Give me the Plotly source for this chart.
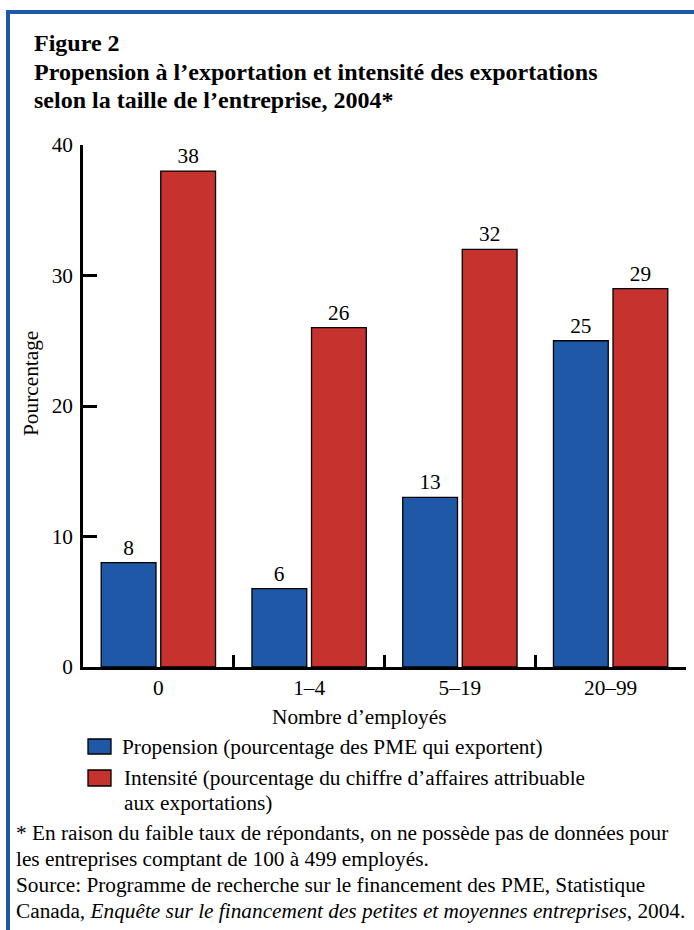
import plotly.graph_objects as go

# Data
categories = ["0", "1–4", "5–19", "20–99"]
propension = [8, 6, 13, 25]
intensite = [38, 26, 32, 29]
y_ticks = [0, 10, 20, 30, 40]

W, H = 694, 930
L, R, T, B = 83, 8, 145, 263
PW, PH = W - L - R, H - T - B

BLUE = "#1f58a7"
RED = "#c6322e"
FONT = "Liberation Serif, Times New Roman, serif"
FS = 21.3


def px(x):
    return (x - L) / PW


def py(y):
    return (H - B - y) / PH


fig = go.Figure()
fig.add_trace(go.Bar(
    x=categories, y=propension, name="Propension",
    marker=dict(color=BLUE, line=dict(color="black", width=1.3)),
    text=[str(v) for v in propension], textposition="outside",
    textfont=dict(family=FONT, size=FS, color="black"), cliponaxis=False,
))
fig.add_trace(go.Bar(
    x=categories, y=intensite, name="Intensité",
    marker=dict(color=RED, line=dict(color="black", width=1.3)),
    text=[str(v) for v in intensite], textposition="outside",
    textfont=dict(family=FONT, size=FS, color="black"), cliponaxis=False,
))

annotations = []


def note(x, y, text, size=FS, anchor="left", yanchor="middle"):
    annotations.append(dict(
        x=px(x), y=py(y), xref="paper", yref="paper", text=text,
        showarrow=False, xanchor=anchor, yanchor=yanchor, align="left",
        font=dict(family=FONT, size=size, color="black"),
    ))


# Title block
for i, line in enumerate([
    "<b>Figure 2</b>",
    "<b>Propension à l’exportation et intensité des exportations</b>",
    "<b>selon la taille de l’entreprise, 2004*</b>",
]):
    note(32, 43 + i * 28.5, line, size=24)

# Axis titles
annotations.append(dict(
    x=px(31), y=py(384), xref="paper", yref="paper", text="Pourcentage",
    showarrow=False, textangle=-90, xanchor="center", yanchor="middle",
    font=dict(family=FONT, size=FS, color="black"),
))
note(359, 717, "Nombre d’employés", anchor="center")

# Legend
shapes = [
    dict(type="rect", xref="paper", yref="paper",
         x0=px(88), x1=px(111), y0=py(739), y1=py(754),
         fillcolor=BLUE, line=dict(color="black", width=1.3)),
    dict(type="rect", xref="paper", yref="paper",
         x0=px(88), x1=px(111), y0=py(770), y1=py(786),
         fillcolor=RED, line=dict(color="black", width=1.3)),
]
note(120, 747, "Propension (pourcentage des PME qui exportent)")
note(122, 778, "Intensité (pourcentage du chiffre d’affaires attribuable")
note(122, 803, "aux exportations)")

# Footnotes
note(14, 833, "* En raison du faible taux de répondants, on ne possède pas de données pour")
note(14, 859, "les entreprises comptant de 100 à 499 employés.")
note(14, 885, "Source: Programme de recherche sur le financement des PME, Statistique")
note(14, 911, "Canada, <i>Enquête sur le financement des petites et moyennes entreprises</i>, 2004.")

# Blue frame (top and left edges)
shapes += [
    dict(type="line", xref="paper", yref="paper",
         x0=px(6), x1=px(694), y0=py(12), y1=py(12),
         line=dict(color=BLUE, width=4)),
    dict(type="line", xref="paper", yref="paper",
         x0=px(8), x1=px(8), y0=py(10), y1=py(930),
         line=dict(color=BLUE, width=4)),
]

fig.update_layout(
    width=W, height=H,
    margin=dict(l=L, r=R, t=T, b=B),
    paper_bgcolor="white", plot_bgcolor="white",
    showlegend=False,
    barmode="group", bargap=0.21, bargroupgap=0.08,
    font=dict(family=FONT, size=FS, color="black"),
    annotations=annotations, shapes=shapes,
    xaxis=dict(
        type="category", showgrid=False, zeroline=False,
        showline=True, linecolor="black", linewidth=2.5,
        ticks="inside", tickson="boundaries", ticklen=12,
        tickwidth=2.5, tickcolor="black",
        tickfont=dict(family=FONT, size=FS, color="black"),
        range=[-0.5, 3.5],
    ),
    yaxis=dict(
        range=[0, 40], tickvals=y_ticks, showgrid=False, zeroline=False,
        showline=True, linecolor="black", linewidth=2.5,
        ticks="inside", ticklen=14, tickwidth=2.5, tickcolor="black",
        ticklabelstandoff=3,
        tickfont=dict(family=FONT, size=FS, color="black"),
    ),
)

fig.write_html("out.html")
